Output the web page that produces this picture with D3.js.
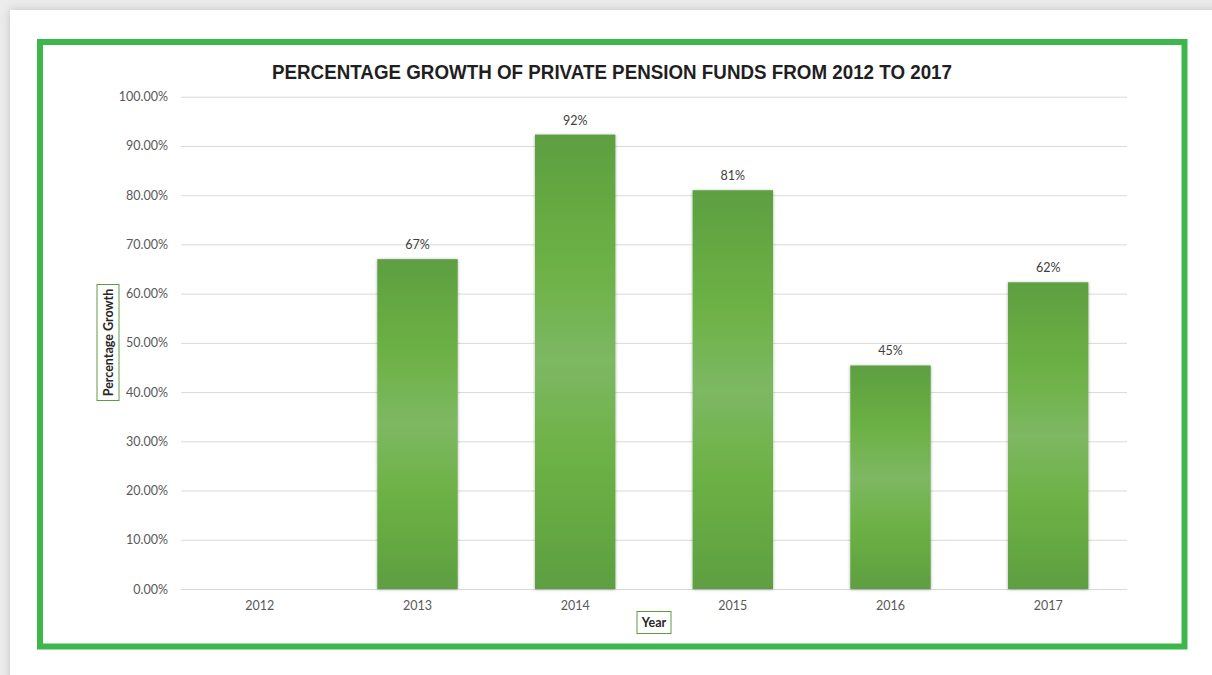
<!DOCTYPE html>
<html>
<head>
<meta charset="utf-8">
<script src="https://cdn.jsdelivr.net/npm/d3@7"></script>
<style>
  html, body { margin: 0; padding: 0; background: #ececec; overflow: hidden; }
  svg { display: block; }
</style>
</head>
<body>
<svg id="chart" width="1212" height="675"></svg>
<script>
// Data
const years = ["2012", "2013", "2014", "2015", "2016", "2017"];
const growth = [null, 0.670, 0.923, 0.810, 0.454, 0.623];
const yTicks = [0, 0.1, 0.2, 0.3, 0.4, 0.5, 0.6, 0.7, 0.8, 0.9, 1.0];

const titleText = "PERCENTAGE GROWTH OF PRIVATE PENSION FUNDS FROM 2012 TO 2017";
const yTitle = "Percentage Growth";
const xTitle = "Year";

const svg = d3.select("#chart");
const W = 1212, H = 675;

const defs = svg.append("defs");

// Page shadow
const pageShadow = defs.append("filter").attr("id", "pageShadow")
  .attr("x", "-5%").attr("y", "-5%").attr("width", "110%").attr("height", "110%");
pageShadow.append("feDropShadow")
  .attr("dx", 0).attr("dy", 0).attr("stdDeviation", 5)
  .attr("flood-color", "#000").attr("flood-opacity", 0.18);

// Bar shadow
const barShadow = defs.append("filter").attr("id", "barShadow")
  .attr("x", "-20%").attr("y", "-5%").attr("width", "140%").attr("height", "110%");
barShadow.append("feDropShadow")
  .attr("dx", 0).attr("dy", 0.5).attr("stdDeviation", 1.4)
  .attr("flood-color", "#000").attr("flood-opacity", 0.35);

// Vertical bar gradient
const grad = defs.append("linearGradient").attr("id", "barGrad")
  .attr("x1", 0).attr("y1", 0).attr("x2", 0).attr("y2", 1);
[
  [0, "#5d9f42"], [0.28, "#6cb144"], [0.5, "#7db863"], [0.72, "#6cb144"], [1, "#5d9f42"]
].forEach(([o, c]) => grad.append("stop").attr("offset", o).attr("stop-color", c));

// Page background
svg.append("rect").attr("x", 10).attr("y", 10).attr("width", W + 40).attr("height", H + 40)
  .attr("fill", "#ffffff").attr("filter", "url(#pageShadow)");

// Green frame
svg.append("rect")
  .attr("x", 40).attr("y", 42).attr("width", 1144.5).attr("height", 604.5)
  .attr("fill", "#ffffff").attr("stroke", "#3db64b").attr("stroke-width", 6);

// Scales
const x = d3.scaleBand().domain(years).range([181, 1127])
  .paddingInner(0.49).paddingOuter(0.245);
const y = d3.scaleLinear().domain([0, 1]).range([589, 96.7]);

const fmtTick = d3.format(".2%");
const fmtLabel = d3.format(".0%");

// Gridlines + y tick labels
const yAxis = d3.axisLeft(y).tickValues(yTicks).tickFormat(fmtTick)
  .tickSize(-(1127 - 181)).tickPadding(13);
const gy = svg.append("g").attr("transform", "translate(181,0)").call(yAxis);
gy.select(".domain").remove();
gy.selectAll(".tick line").attr("stroke", "#d9d9d9").attr("stroke-width", 1);
gy.selectAll(".tick text")
  .attr("font-family", "Lato, 'Open Sans', sans-serif")
  .attr("font-size", 12.5).attr("fill", "#595959");

// Bars
const data = years.map((yr, i) => ({ year: yr, value: growth[i] }));
const bars = data.filter(d => d.value != null);

svg.append("g").selectAll("rect").data(bars).join("rect")
  .attr("x", d => x(d.year))
  .attr("y", d => y(d.value))
  .attr("width", x.bandwidth())
  .attr("height", d => y(0) - y(d.value))
  .attr("fill", "url(#barGrad)")
  .attr("filter", "url(#barShadow)");

// Value labels
svg.append("g").selectAll("text").data(bars).join("text")
  .attr("x", d => x(d.year) + x.bandwidth() / 2)
  .attr("y", d => y(d.value) - 10)
  .attr("text-anchor", "middle")
  .attr("font-family", "Lato, 'Open Sans', sans-serif")
  .attr("font-size", 12.5).attr("fill", "#404040")
  .text(d => fmtLabel(d.value));

// X axis labels
const xAxis = d3.axisBottom(x).tickSize(0).tickPadding(12);
const gx = svg.append("g").attr("transform", "translate(0,589)").call(xAxis);
gx.select(".domain").remove();
gx.selectAll(".tick text")
  .attr("font-family", "Lato, 'Open Sans', sans-serif")
  .attr("font-size", 12.5).attr("fill", "#595959");

// Title
svg.append("text")
  .attr("x", 612).attr("y", 78.5)
  .attr("text-anchor", "middle")
  .attr("font-family", "'Liberation Sans', Arial, sans-serif")
  .attr("font-weight", "bold").attr("font-size", 20.5)
  .attr("fill", "#1f1f1f")
  .attr("textLength", 680).attr("lengthAdjust", "spacingAndGlyphs")
  .text(titleText);

// Y axis title in a box
const yT = svg.append("g").attr("transform", "translate(108,342.5) rotate(-90)");
yT.append("rect").attr("x", -58).attr("y", -11).attr("width", 116).attr("height", 22)
  .attr("fill", "#ffffff").attr("stroke", "#5e9c43").attr("stroke-width", 1);
yT.append("text").attr("x", 0).attr("y", 4.5).attr("text-anchor", "middle")
  .attr("font-family", "Lato, 'Open Sans', sans-serif")
  .attr("font-weight", "bold").attr("font-size", 12.5).attr("fill", "#262626")
  .text(yTitle);

// X axis title in a box
const xT = svg.append("g").attr("transform", "translate(654,622.5)");
xT.append("rect").attr("x", -17).attr("y", -11).attr("width", 34).attr("height", 22)
  .attr("fill", "#ffffff").attr("stroke", "#5e9c43").attr("stroke-width", 1);
xT.append("text").attr("x", 0).attr("y", 4.5).attr("text-anchor", "middle")
  .attr("font-family", "Lato, 'Open Sans', sans-serif")
  .attr("font-weight", "bold").attr("font-size", 12.5).attr("fill", "#262626")
  .text(xTitle);
</script>
</body>
</html>
